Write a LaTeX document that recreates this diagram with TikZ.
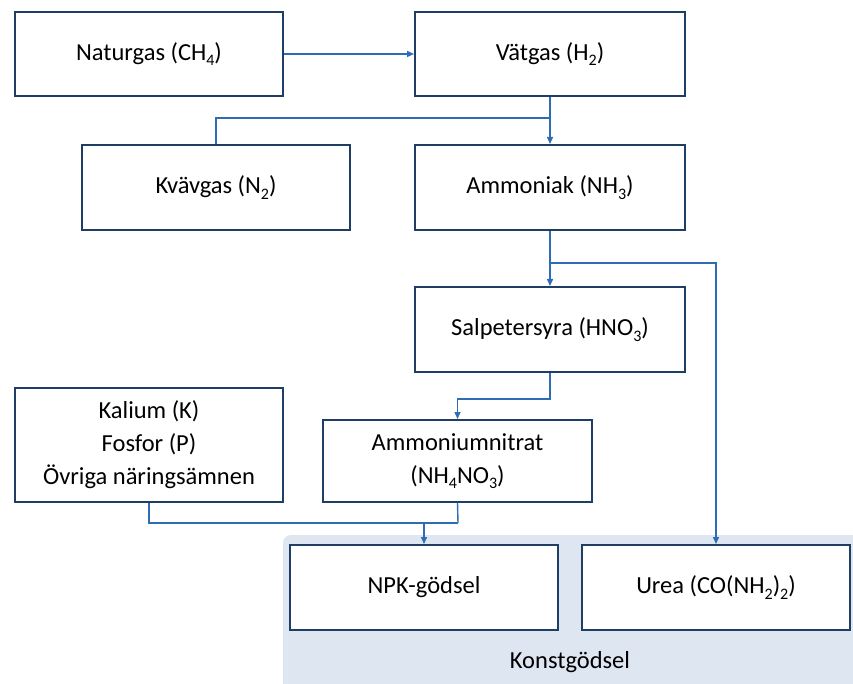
\documentclass[tikz,border=0pt]{standalone}
\usepackage{fontspec}
\setmainfont{Carlito}
\usetikzlibrary{arrows.meta}
\definecolor{boxline}{HTML}{1F3E66}
\definecolor{conn}{HTML}{2E6DB4}
\definecolor{bgblue}{HTML}{DDE6F1}
\newcommand{\chemsub}[1]{\raisebox{-0.45ex}{\fontsize{16}{16}\selectfont #1}}
\begin{document}
\begin{tikzpicture}[x=1pt,y=-1pt,
  box/.style={draw=boxline,line width=2pt,fill=white,font=\fontsize{24.5}{33}\selectfont,align=center,inner sep=0pt},
  link/.style={draw=conn,line width=1.4pt},
  arr/.style={link,-{Triangle[length=7pt,width=6pt]}}]
\useasboundingbox (0,0) rectangle (853,684);
\fill[bgblue,rounded corners=8pt] (283,535) rectangle (870,700);
\node[box,minimum width=268pt,minimum height=84pt] (nat) at (149,54) {Naturgas (CH\chemsub{4})};
\node[box,minimum width=270pt,minimum height=84pt] (vat) at (550,54) {Vätgas (H\chemsub{2})};
\node[box,minimum width=268pt,minimum height=85pt] (kva) at (216,187.5) {Kvävgas (N\chemsub{2})};
\node[box,minimum width=270pt,minimum height=85pt] (amm) at (550,187.5) {Ammoniak (NH\chemsub{3})};
\node[box,minimum width=270pt,minimum height=85pt] (sal) at (550,329.5) {Salpetersyra (HNO\chemsub{3})};
\node[box,minimum width=268pt,minimum height=114pt] (kal) at (149,445) {Kalium (K)\\Fosfor (P)\\Övriga näringsämnen};
\node[box,minimum width=269pt,minimum height=82pt] (an) at (457.5,461) {Ammoniumnitrat\\(NH\chemsub{4}NO\chemsub{3})};
\node[box,minimum width=268pt,minimum height=85pt] (npk) at (424,587.5) {NPK-gödsel};
\node[box,minimum width=268pt,minimum height=85pt] (urea) at (716,587.5) {Urea (CO(NH\chemsub{2})\chemsub{2})};
\node[font=\fontsize{24.5}{33}\selectfont] (konst) at (570,662) {Konstgödsel};
\coordinate (j1) at (550,118);
\coordinate (j2) at (550,263);
\coordinate (j3) at (458,523);
\draw[arr] (nat.east) -- (vat.west);
\draw[arr] (vat.south) -- (amm.north);
\draw[link] (kva.north) |- (j1);
\draw[arr] (amm.south) -- (sal.north);
\draw[arr] (j2) -| (urea.north);
\draw[arr] (sal.south) -- ++(0,26) -| (an.north);
\draw[link] (kal.south) |- (j3);
\draw[link] (an.south) -- (j3);
\draw[arr] (npk.north |- j3) -- (npk.north);
\end{tikzpicture}
\end{document}
